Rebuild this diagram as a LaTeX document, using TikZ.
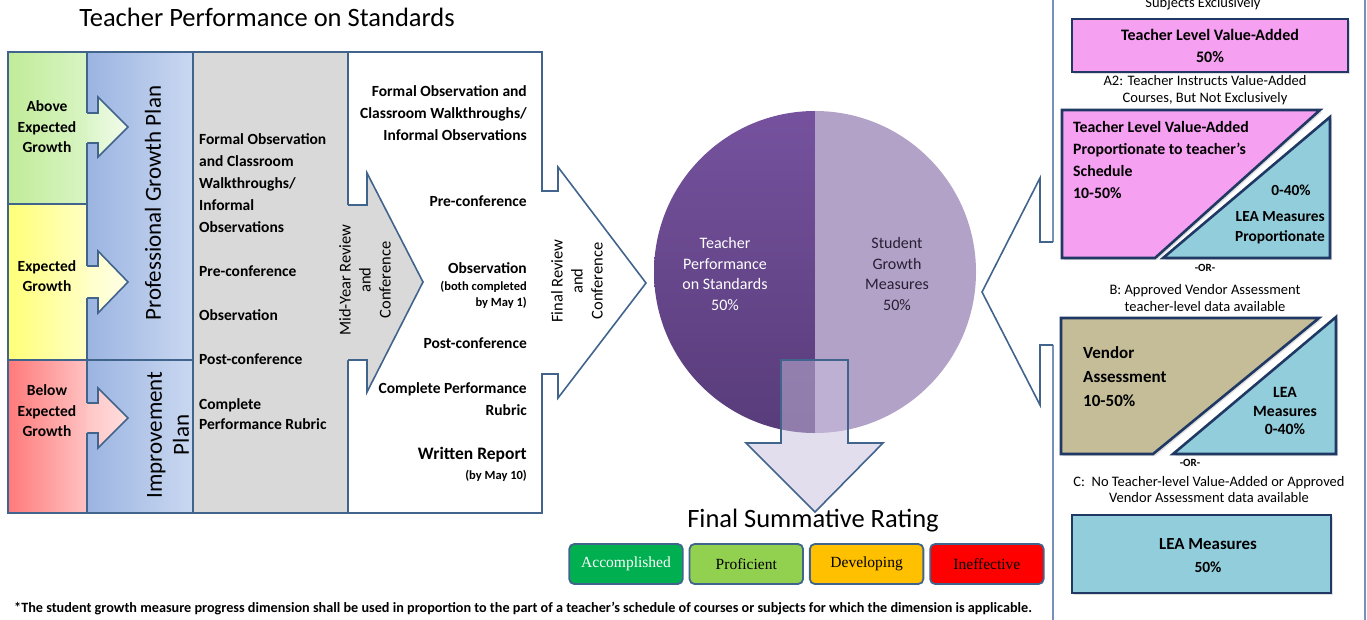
\documentclass[tikz,border=0pt]{standalone}
\usepackage{fontspec}
\setmainfont{Carlito}
\newfontfamily\ratingfont{Liberation Serif}
\usetikzlibrary{positioning,shadows}

\definecolor{framec}{RGB}{65,100,140}
\definecolor{panelc}{RGB}{120,145,185}
\definecolor{darkb}{RGB}{31,56,100}
\definecolor{grayc}{RGB}{217,217,217}
\definecolor{pinkc}{RGB}{245,160,240}
\definecolor{lblue}{RGB}{146,205,220}
\definecolor{tanc}{RGB}{196,189,151}
\definecolor{purpd}{RGB}{118,82,158}
\definecolor{purpb}{RGB}{88,60,122}
\definecolor{purpl}{RGB}{178,162,200}
\definecolor{downc}{RGB}{200,190,220}

\begin{document}
\begin{tikzpicture}[x=1pt,y=-1pt,line join=miter,
    frame/.style={draw=framec,line width=1.6pt},
    boxline/.style={draw=darkb,line width=2.6pt,drop shadow={opacity=0.25,shadow xshift=2pt,shadow yshift=-2pt}},
    boldtxt/.style={font=\fontsize{15.5}{22}\selectfont\bfseries,inner sep=0pt},
    smalltxt/.style={font=\fontsize{12.5}{16}\selectfont\bfseries,inner sep=0pt},
    notetxt/.style={font=\fontsize{14.5}{17}\selectfont,inner sep=0pt,align=center},
    sidetxt/.style={font=\fontsize{16.5}{20}\selectfont,inner sep=0pt,align=center,rotate=90},
    growtxt/.style={font=\fontsize{15.5}{20.5}\selectfont\bfseries,inner sep=0pt,align=center},
    rating/.style={draw=framec,line width=1.8pt,rounded corners=5pt,minimum width=113.5pt,minimum height=40pt,font=\ratingfont\fontsize{15.5}{17}\selectfont,inner sep=0pt}]
\useasboundingbox (0,0) rectangle (1367,619);

% title
\node[font=\fontsize{26.5}{30}\selectfont,inner sep=0pt] (title) at (267,17) {Teacher Performance on Standards};

% white final review arrow (big box)
\fill[white] (348,52) -- (542,52) -- (542,191) -- (558,191) -- (558,167) -- (646,283) -- (558,398) -- (558,374) -- (542,374) -- (542,513) -- (348,513) -- cycle;
\draw[frame] (348,52) -- (542,52) -- (542,191) -- (558,191) -- (558,167) -- (646,283) -- (558,398) -- (558,374) -- (542,374) -- (542,513) -- (348,513);

% gray column
\filldraw[fill=grayc,frame] (193,52) rectangle (348,513);

% mid-year arrow
\fill[grayc] (340,205) -- (367,205) -- (367,173) -- (423,282) -- (367,392) -- (367,360) -- (340,360) -- cycle;
\draw[frame] (348,205) -- (367,205) -- (367,173) -- (423,282) -- (367,392) -- (367,360) -- (348,360);

% blue plan column
\shade[left color={rgb,255:red,155;green,180;blue,225},right color={rgb,255:red,202;green,216;blue,241}] (87,52) rectangle (193,513);
\draw[frame] (87,52) rectangle (193,360);
\draw[frame] (87,360) rectangle (193,513);

% growth arrows
\shade[left color={rgb,255:red,216;green,245;blue,196},right color={rgb,255:red,242;green,251;blue,235}]
    (80,113) -- (98,113) -- (98,97) -- (128,127) -- (98,157) -- (98,143) -- (80,143) -- cycle;
\draw[frame] (87,113) -- (98,113) -- (98,97) -- (128,127) -- (98,157) -- (98,143) -- (87,143);
\shade[left color={rgb,255:red,255;green,255;blue,196},right color={rgb,255:red,255;green,255;blue,230}]
    (80,266) -- (98,266) -- (98,251) -- (128,282) -- (98,313) -- (98,298) -- (80,298) -- cycle;
\draw[frame] (87,266) -- (98,266) -- (98,251) -- (128,282) -- (98,313) -- (98,298) -- (87,298);
\shade[left color={rgb,255:red,255;green,194;blue,194},right color={rgb,255:red,255;green,222;blue,222}]
    (80,403) -- (98,403) -- (98,388) -- (128,418) -- (98,448) -- (98,433) -- (80,433) -- cycle;
\draw[frame] (87,403) -- (98,403) -- (98,388) -- (128,418) -- (98,448) -- (98,433) -- (87,433);

% growth boxes
\shade[left color={rgb,255:red,193;green,235;blue,152},right color={rgb,255:red,216;green,245;blue,196}] (8,52) rectangle (87,204);
\shade[left color={rgb,255:red,255;green,255;blue,120},right color={rgb,255:red,255;green,255;blue,196}] (8,204) rectangle (87,360);
\shade[left color={rgb,255:red,255;green,122;blue,122},right color={rgb,255:red,255;green,194;blue,194}] (8,360) rectangle (87,513);
\draw[frame] (87,113) -- (87,52) -- (8,52) -- (8,513) -- (87,513) -- (87,433);
\draw[frame] (87,143) -- (87,266);
\draw[frame] (87,298) -- (87,403);
\draw[frame] (8,204) -- (87,204);
\draw[frame] (8,360) -- (87,360);

\node[growtxt] (above) at (47,127) {Above\\Expected\\Growth};
\node[growtxt] (expected) at (47,276) {Expected\\Growth};
\node[growtxt] (below) at (47,411) {Below\\Expected\\Growth};

% plan labels
\node[sidetxt,font=\fontsize{23}{27}\selectfont] (pgp) at (153,203) {Professional Growth Plan};
\node[sidetxt,font=\fontsize{23}{27}\selectfont] (ip) at (168,435) {Improvement\\Plan};

% mid-year steps
\node[boldtxt,anchor=west,align=left] (mformal) at (199,183) {Formal Observation\\and Classroom\\Walkthroughs/\\Informal\\Observations};
\node[boldtxt,anchor=west] (mpre) at (199,271) {Pre-conference};
\node[boldtxt,anchor=west] (mobs) at (199,315) {Observation};
\node[boldtxt,anchor=west] (mpost) at (199,359) {Post-conference};
\node[boldtxt,anchor=west,align=left,font=\fontsize{15.5}{20}\selectfont\bfseries] (mrubric) at (199,414) {Complete\\Performance Rubric};

\node[sidetxt] (midyear) at (365,280) {Mid-Year Review\\and\\Conference};

% final steps
\node[boldtxt,anchor=east,align=right] (fformal) at (527,113) {Formal Observation and\\Classroom Walkthroughs/\\Informal Observations};
\node[boldtxt,anchor=east] (fpre) at (527,201) {Pre-conference};
\node[boldtxt,anchor=east] (fobs) at (527,268) {Observation};
\node[smalltxt,anchor=east,align=right] (fboth) at (527,295) {(both completed\\by May 1)};
\node[boldtxt,anchor=east] (fpost) at (527,343) {Post-conference};
\node[boldtxt,anchor=east,align=right] (frubric) at (527,399) {Complete Performance\\Rubric};
\node[boldtxt,anchor=east,font=\fontsize{17.5}{20}\selectfont\bfseries] (freport) at (527,455) {Written Report};
\node[smalltxt,anchor=east] (fmay) at (527,476) {(by May 10)};

\node[sidetxt] (final) at (577,281) {Final Review\\and\\Conference};

% the circle
\begin{scope}
\clip (650,100) rectangle (815,440);
\shade[top color=purpd,bottom color=purpb] (815,272) circle[radius=161pt];
\end{scope}
\begin{scope}
\clip (815,100) rectangle (980,440);
\fill[purpl] (815,272) circle[radius=161pt];
\end{scope}
\node[font=\fontsize{16}{20.5}\selectfont,text=white,align=center,inner sep=0pt] (tps) at (725,274) {Teacher\\Performance\\on Standards\\50\%};
\node[font=\fontsize{16}{20.5}\selectfont,text={rgb,255:red,40;green,30;blue,50},align=center,inner sep=0pt] (sgm) at (897,274) {Student\\Growth\\Measures\\50\%};

% down arrow
\filldraw[fill=downc,fill opacity=0.5,frame] (781,360) -- (848,360) -- (848,443) -- (883,443) -- (815,512) -- (746,443) -- (781,443) -- cycle;

% final summative rating
\node[font=\fontsize{26.5}{30}\selectfont,inner sep=0pt] (fsr) at (813,521) {Final Summative Rating};
\node[rating,fill={rgb,255:red,0;green,176;blue,80},text=white] (acc) at (626,564) {Accomplished};
\node[rating,fill={rgb,255:red,146;green,208;blue,80},right=5pt of acc] (prof) {Proficient};
\node[rating,fill={rgb,255:red,255;green,192;blue,0},right=5pt of prof] (dev) {Developing};
\node[rating,fill={rgb,255:red,255;green,0;blue,0},right=5pt of dev] (ineff) {Ineffective};

% footnote
\node[font=\fontsize{14.2}{16}\selectfont\bfseries,anchor=west,inner sep=0pt] (note) at (14,609) {*The student growth measure progress dimension shall be used in proportion to the part of a teacher's schedule of courses or subjects for which the dimension is applicable.};

% right panel
\draw[panelc,line width=1.4pt] (1053,-5) -- (1053,242);
\draw[panelc,line width=1.4pt] (1053,345) -- (1053,625);
\draw[panelc,line width=1.4pt] (1365,-5) -- (1365,625);
\filldraw[fill=white,frame] (1053,242) -- (1040,242) -- (1040,178) -- (982,292) -- (1040,405) -- (1040,345) -- (1053,345);

\node[notetxt,anchor=base] (a1) at (1203,7) {Subjects Exclusively};
\filldraw[fill=pinkc,boxline] (1072,19) rectangle (1348,72);
\node[boldtxt,align=center,font=\fontsize{16}{22}\selectfont\bfseries] (tlva) at (1210,46) {Teacher Level Value-Added\\50\%};
\node[notetxt] (a2) at (1205,90) {A2: Teacher Instructs Value-Added\\Courses, But Not Exclusively};

\filldraw[fill=pinkc,boxline] (1062,110) -- (1320,110) -- (1155,258) -- (1062,258) -- cycle;
\filldraw[fill=lblue,boxline] (1163,258) -- (1330,117) -- (1330,258) -- cycle;
\node[boldtxt,anchor=west,align=left,font=\fontsize{15.8}{22}\selectfont\bfseries] (tlvap) at (1073,160) {Teacher Level Value-Added\\Proportionate to teacher's\\Schedule\\10-50\%};
\node[boldtxt,font=\fontsize{15.4}{20}\selectfont\bfseries] (lea1pct) at (1291,190) {0-40\%};
\node[boldtxt,anchor=east,align=right,font=\fontsize{15.4}{20}\selectfont\bfseries] (lea1) at (1325,228) {LEA Measures\\Proportionate};

\node[smalltxt,font=\fontsize{11}{12}\selectfont\bfseries] (or1) at (1205,268) {-OR-};
\node[notetxt] (btxt) at (1205,298) {B: Approved Vendor Assessment\\teacher-level data available};

\filldraw[fill=tanc,boxline] (1061,318) -- (1319,318) -- (1153,454) -- (1061,454) -- cycle;
\filldraw[fill=lblue,boxline] (1173,454) -- (1336,317) -- (1336,454) -- cycle;
\node[boldtxt,anchor=west,align=left,font=\fontsize{17}{24}\selectfont\bfseries] (vendor) at (1083,377) {Vendor\\Assessment\\10-50\%};
\node[boldtxt,align=center,font=\fontsize{15.7}{18.5}\selectfont\bfseries] (lea2) at (1285,411) {LEA\\Measures\\0-40\%};

\node[smalltxt,font=\fontsize{11}{12}\selectfont\bfseries] (or2) at (1190,463) {-OR-};
\node[notetxt,font=\fontsize{14.5}{16}\selectfont] (ctxt) at (1209,490) {C:\ \ No Teacher-level Value-Added or Approved\\Vendor Assessment data available};

\filldraw[fill=lblue,boxline] (1072,515) rectangle (1331,593);
\node[boldtxt,align=center,font=\fontsize{16.9}{23}\selectfont\bfseries] (lea3) at (1208,556) {LEA Measures\\\fontsize{15.5}{23}\selectfont 50\%};

\end{tikzpicture}
\end{document}
